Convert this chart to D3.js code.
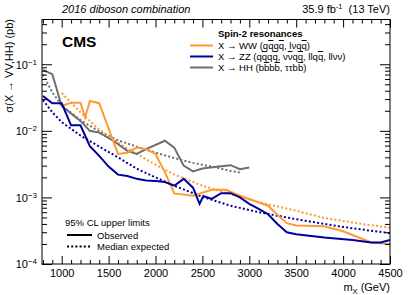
<!DOCTYPE html>
<html>
<head>
<meta charset="utf-8">
<script src="https://cdn.jsdelivr.net/npm/d3@7"></script>
<style>
  body { margin: 0; background: #fff; }
  svg { display: block; font-family: "Liberation Sans", Arial, sans-serif; }
  .axis path { stroke: #000; }
  .axis line { stroke: #000; }
  .axis text { font-size: 11px; fill: #000; }
</style>
</head>
<body>
<div id="chart"></div>
<script>
// X -> HH
var hhMass = [800, 900, 1000, 1200, 1300, 1400, 1550, 1700, 1800, 1900, 2100, 2200, 2300, 2400, 2500, 2650, 2800, 2900, 3000];
var hhObs = [0.082, 0.071, 0.0236, 0.0141, 0.0100, 0.0094, 0.0071, 0.0050, 0.0045, 0.0053, 0.0071, 0.0056, 0.0030, 0.00246, 0.00272, 0.00288, 0.00305, 0.00266, 0.00282];
var hhExpMass = [800, 900, 1000, 1200, 1400, 1600, 1800, 2000, 2200, 2400, 2600, 2800, 2900];
var hhExp = [0.07, 0.038, 0.024, 0.0145, 0.0098, 0.0072, 0.0058, 0.0047, 0.0039, 0.0033, 0.0029, 0.0025, 0.00237];

// X -> WW
var wwMass = [1000, 1100, 1200, 1250, 1300, 1400, 1600, 1700, 1800, 1900, 2000, 2100, 2200, 2400, 2600, 2750, 2900, 3050, 3200, 3300, 3400, 3500, 3800, 4000, 4300, 4500];
var wwObs = [0.0236, 0.0265, 0.0265, 0.0158, 0.028, 0.026, 0.0045, 0.0047, 0.0056, 0.0053, 0.0045, 0.0024, 0.00115, 0.00106, 0.0013, 0.0013, 0.00106, 0.00089, 0.00075, 0.00055, 0.00041, 0.00038, 0.00037, 0.00031, 0.00021, 0.0002];
var wwExpMass = [1000, 1200, 1400, 1600, 1800, 2000, 2200, 2500, 2800, 3100, 3500, 3800, 4200, 4500];
var wwExp = [0.037, 0.019, 0.0105, 0.0066, 0.0045, 0.0031, 0.0022, 0.0015, 0.00112, 0.00085, 0.00063, 0.00049, 0.0004, 0.00035];

// X -> ZZ
var zzMass = [800, 900, 1000, 1100, 1200, 1300, 1400, 1500, 1600, 1700, 1800, 1900, 2000, 2100, 2200, 2300, 2400, 2470, 2510, 2600, 2700, 2800, 2900, 3000, 3100, 3200, 3300, 3400, 3500, 3800, 4100, 4300, 4400, 4500];
var zzObs = [0.0334, 0.0259, 0.0259, 0.0121, 0.0121, 0.0059, 0.0042, 0.0029, 0.0022, 0.0021, 0.0019, 0.0018, 0.00177, 0.0017, 0.0015, 0.0019, 0.0014, 0.0008, 0.00105, 0.00095, 0.00116, 0.00116, 0.001, 0.0008, 0.00067, 0.00056, 0.0004, 0.0003, 0.00028, 0.00025, 0.00023, 0.00021, 0.00021, 0.00023];
var zzExpMass = [800, 900, 1000, 1200, 1400, 1600, 1800, 2000, 2200, 2500, 2800, 3100, 3500, 4000, 4500];
var zzExp = [0.029, 0.019, 0.0135, 0.0085, 0.0058, 0.004, 0.0027, 0.002, 0.0015, 0.00102, 0.00075, 0.0006, 0.00047, 0.00036, 0.00029];

var xMajor = [1000, 1500, 2000, 2500, 3000, 3500, 4000, 4500];
var yMajor = [1e-4, 1e-3, 1e-2, 1e-1];
var yExp = ['\u22124', '\u22123', '\u22122', '\u22121'];

var colWW = '#ff9933', colZZ = '#00009c', colHH = '#6e6e6e';

var W = 411, H = 295;
var pLeft = 42, pRight = 390, pTop = 19.5, pBottom = 264;

var svg = d3.select('#chart')
  .append('svg')
    .attr('width', W)
    .attr('height', H);

var x = d3.scaleLinear()
  .domain([790, 4500])
  .range([pLeft, pRight]);

var y = d3.scaleLog()
  .domain([1e-4, 0.47])
  .range([pBottom, pTop]);

svg.append('clipPath').attr('id', 'clip')
  .append('rect')
    .attr('x', pLeft).attr('y', pTop)
    .attr('width', pRight - pLeft).attr('height', pBottom - pTop);

function series(m, v) {
  return m.map(function(d, i) { return [d, v[i]]; });
}

var line = d3.line()
  .x(function(d) { return x(d[0]); })
  .y(function(d) { return y(d[1]); });

var curves = [
  {data: series(hhExpMass, hhExp), col: colHH, dash: true},
  {data: series(wwExpMass, wwExp), col: colWW, dash: true},
  {data: series(zzExpMass, zzExp), col: colZZ, dash: true},
  {data: series(hhMass, hhObs), col: colHH, dash: false},
  {data: series(wwMass, wwObs), col: colWW, dash: false},
  {data: series(zzMass, zzObs), col: colZZ, dash: false}
];

svg.append('g')
  .attr('clip-path', 'url(#clip)')
  .selectAll('path')
  .data(curves)
  .enter().append('path')
    .attr('d', function(d) { return line(d.data); })
    .attr('fill', 'none')
    .attr('stroke', function(d) { return d.col; })
    .attr('stroke-width', 2)
    .attr('stroke-dasharray', function(d) { return d.dash ? '2,2.2' : null; });

// minor tick values
var xMinor = d3.range(800, 4501, 100).filter(function(v) { return v % 500 != 0; });
var yMinor = [];
[1e-4, 1e-3, 1e-2, 1e-1].forEach(function(p) {
  for (var k = 2; k <= 9; k++) if (p * k <= 0.47) yMinor.push(p * k);
});

// bottom axis
svg.append('g')
  .attr('class', 'axis')
  .attr('transform', 'translate(0,' + pBottom + ')')
  .call(d3.axisBottom(x).tickValues(xMajor).tickSize(-8).tickPadding(5).tickFormat(d3.format('d')));
svg.append('g')
  .attr('class', 'axis')
  .attr('transform', 'translate(0,' + pBottom + ')')
  .call(d3.axisBottom(x).tickValues(xMinor).tickSize(-4).tickFormat(''));
// top axis
svg.append('g')
  .attr('class', 'axis')
  .attr('transform', 'translate(0,' + pTop + ')')
  .call(d3.axisTop(x).tickValues(xMajor).tickSize(-8).tickFormat(''));
svg.append('g')
  .attr('class', 'axis')
  .attr('transform', 'translate(0,' + pTop + ')')
  .call(d3.axisTop(x).tickValues(xMinor).tickSize(-4).tickFormat(''));

// left axis
var yl = svg.append('g')
  .attr('class', 'axis')
  .attr('transform', 'translate(' + pLeft + ',0)')
  .call(d3.axisLeft(y).tickValues(yMajor).tickSize(-10).tickPadding(5).tickFormat(''));
svg.append('g')
  .attr('class', 'axis')
  .attr('transform', 'translate(' + pLeft + ',0)')
  .call(d3.axisLeft(y).tickValues(yMinor).tickSize(-5).tickFormat(''));
// right axis
svg.append('g')
  .attr('class', 'axis')
  .attr('transform', 'translate(' + pRight + ',0)')
  .call(d3.axisRight(y).tickValues(yMajor).tickSize(-10).tickFormat(''));
svg.append('g')
  .attr('class', 'axis')
  .attr('transform', 'translate(' + pRight + ',0)')
  .call(d3.axisRight(y).tickValues(yMinor).tickSize(-5).tickFormat(''));

svg.selectAll('.axis path.domain').remove();

// y tick labels as 10^n
yl.selectAll('.tick').each(function(d, i) {
  var t = d3.select(this).select('text');
  t.text('').attr('x', -5).attr('dy', '0.36em').attr('text-anchor', 'end');
  t.append('tspan').text('10');
  t.append('tspan').attr('dy', '-0.5em').style('font-size', '8px').text(yExp[i]);
});

// frame
svg.append('rect')
  .attr('x', pLeft).attr('y', pTop)
  .attr('width', pRight - pLeft).attr('height', pBottom - pTop)
  .attr('fill', 'none')
  .attr('stroke', '#000')
  .attr('stroke-width', 1);

// header texts
svg.append('text')
  .attr('x', 62).attr('y', 13)
  .style('font-size', '11px')
  .style('font-style', 'italic')
  .text('2016 diboson combination');

var lumi = svg.append('text')
  .attr('x', 390).attr('y', 13)
  .attr('text-anchor', 'end')
  .style('font-size', '11px');
lumi.append('tspan').text('35.9 fb');
lumi.append('tspan').attr('dy', '-4').style('font-size', '7.5px').text('-1');
lumi.append('tspan').attr('dy', '4').text('\u00a0\u00a0(13 TeV)');

svg.append('text')
  .attr('x', 62).attr('y', 47)
  .style('font-size', '15.5px')
  .style('font-weight', 'bold')
  .text('CMS');

// axis titles
var xt = svg.append('text')
  .attr('x', 390).attr('y', 291)
  .attr('text-anchor', 'end')
  .style('font-size', '11px');
xt.append('tspan').text('m');
xt.append('tspan').attr('dy', '3').style('font-size', '7.5px').text('X');
xt.append('tspan').attr('dy', '-3').text('\u00a0(GeV)');

svg.append('text')
  .attr('transform', 'translate(13,19)rotate(-90)')
  .attr('text-anchor', 'end')
  .style('font-size', '11px')
  .text('\u03c3(X \u2192 VV,HH) (pb)');

// legend with channels
var legTitle = 'Spin-2 resonances';
var legRows = [
  {col: colWW, parts: [['X \u2192 WW (q', 0], ['q', 1], ['q', 0], ['q', 1], [', l\u03bdq', 0], ['q', 1], [')', 0]]},
  {col: colZZ, parts: [['X \u2192 ZZ (q', 0], ['q', 1], ['q', 0], ['q', 1], [', \u03bd', 0], ['\u03bd', 1], ['q', 0], ['q', 1], [', llq', 0], ['q', 1], [', ll\u03bd\u03bd)', 0]]},
  {col: colHH, parts: [['X \u2192 HH (b', 0], ['b', 1], ['b', 0], ['b', 1], [', \u03c4\u03c4b', 0], ['b', 1], [')', 0]]}
];

svg.append('text')
  .attr('x', 218).attr('y', 37)
  .style('font-size', '9.5px')
  .style('font-weight', 'bold')
  .text(legTitle);

legRows.forEach(function(r, i) {
  var yy = 45.5 + i * 11;
  svg.append('line')
    .attr('x1', 190).attr('x2', 213)
    .attr('y1', yy).attr('y2', yy)
    .attr('stroke', r.col)
    .attr('stroke-width', 2);
  var t = svg.append('text')
    .attr('x', 218).attr('y', yy + 3.5)
    .style('font-size', '9.5px');
  r.parts.forEach(function(p) {
    t.append('tspan')
      .style('text-decoration', p[1] ? 'overline' : null)
      .text(p[0]);
  });
});

// legend for line styles
svg.append('text')
  .attr('x', 65).attr('y', 226)
  .style('font-size', '9.5px')
  .text('95% CL upper limits');

var styles = [['Observed', null], ['Median expected', '2,2.2']];
styles.forEach(function(s, i) {
  var yy = 235 + i * 11.5;
  svg.append('line')
    .attr('x1', 67).attr('x2', 92)
    .attr('y1', yy).attr('y2', yy)
    .attr('stroke', '#000')
    .attr('stroke-width', 2)
    .attr('stroke-dasharray', s[1]);
  svg.append('text')
    .attr('x', 97).attr('y', yy + 3.5)
    .style('font-size', '9.5px')
    .text(s[0]);
});
</script>
</body>
</html>
